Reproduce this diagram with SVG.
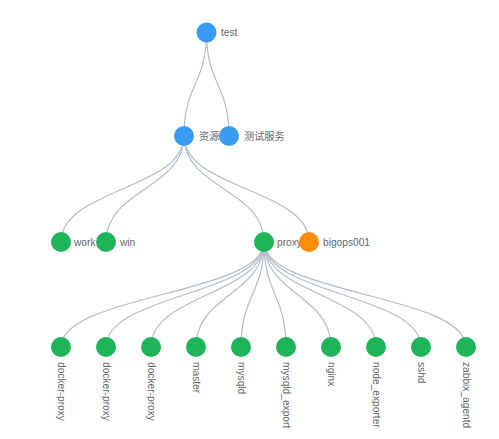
<svg xmlns="http://www.w3.org/2000/svg" width="499" height="439" viewBox="0 0 499 439">
<style>
.e{fill:none;stroke:#b3bcc8;stroke-width:1.2}
.b{fill:#3a9bf5}
.g{fill:#1db45a}
.o{fill:#ff8c0a}
text{font-family:"Liberation Sans","Noto Sans CJK SC",sans-serif;font-size:10.2px;fill:#666;dominant-baseline:middle}
</style>
<rect width="499" height="439" fill="#fff"/>
<g id="connectors">
<path class="e" d="M206.5 32.5 C206.5 84, 184 84, 184 136"/>
<path class="e" d="M206.5 32.5 C206.5 84, 229 84, 229 136"/>
<path class="e" d="M184 136 C184 189, 61 189, 61 242"/>
<path class="e" d="M184 136 C184 189, 106 189, 106 242"/>
<path class="e" d="M184 136 C184 189, 264 189, 264 242"/>
<path class="e" d="M184 136 C184 189, 309 189, 309 242"/>
<path class="e" d="M264 242 C264 294.5, 61 294.5, 61 347"/>
<path class="e" d="M264 242 C264 294.5, 106 294.5, 106 347"/>
<path class="e" d="M264 242 C264 294.5, 151 294.5, 151 347"/>
<path class="e" d="M264 242 C264 294.5, 196 294.5, 196 347"/>
<path class="e" d="M264 242 C264 294.5, 241 294.5, 241 347"/>
<path class="e" d="M264 242 C264 294.5, 286 294.5, 286 347"/>
<path class="e" d="M264 242 C264 294.5, 331 294.5, 331 347"/>
<path class="e" d="M264 242 C264 294.5, 376 294.5, 376 347"/>
<path class="e" d="M264 242 C264 294.5, 421 294.5, 421 347"/>
<path class="e" d="M264 242 C264 294.5, 466 294.5, 466 347"/>
</g>
<g id="n-test"><circle class="b" cx="206.5" cy="32.5" r="10"/><text x="221" y="33">test</text></g>
<g id="n-ziyuanchi"><circle class="b" cx="184" cy="136" r="10"/><text x="199" y="137">资源池</text></g>
<g id="n-ceshifuwu"><circle class="b" cx="229" cy="136" r="10"/><text x="244" y="137">测试服务</text></g>
<g id="n-work"><circle class="g" cx="61" cy="242" r="10"/><text x="74" y="243">work</text></g>
<g id="n-win"><circle class="g" cx="106" cy="242" r="10"/><text x="120" y="243">win</text></g>
<g id="n-proxy"><circle class="g" cx="264" cy="242" r="10"/><text x="277" y="243">proxy</text></g>
<g id="n-bigops001"><circle class="o" cx="309" cy="242" r="10"/><text x="323" y="243">bigops001</text></g>
<g id="n-leaf1"><circle class="g" cx="61" cy="347" r="10"/><text transform="translate(61 362) rotate(90)">docker-proxy</text></g>
<g id="n-leaf2"><circle class="g" cx="106" cy="347" r="10"/><text transform="translate(106 362) rotate(90)">docker-proxy</text></g>
<g id="n-leaf3"><circle class="g" cx="151" cy="347" r="10"/><text transform="translate(151 362) rotate(90)">docker-proxy</text></g>
<g id="n-leaf4"><circle class="g" cx="196" cy="347" r="10"/><text transform="translate(196 362) rotate(90)">master</text></g>
<g id="n-leaf5"><circle class="g" cx="241" cy="347" r="10"/><text transform="translate(241 362) rotate(90)">mysqld</text></g>
<g id="n-leaf6"><circle class="g" cx="286" cy="347" r="10"/><text transform="translate(286 362) rotate(90)">mysqld_export</text></g>
<g id="n-leaf7"><circle class="g" cx="331" cy="347" r="10"/><text transform="translate(331 362) rotate(90)">nginx</text></g>
<g id="n-leaf8"><circle class="g" cx="376" cy="347" r="10"/><text transform="translate(376 362) rotate(90)">node_exporter</text></g>
<g id="n-leaf9"><circle class="g" cx="421" cy="347" r="10"/><text transform="translate(421 362) rotate(90)">sshd</text></g>
<g id="n-leaf10"><circle class="g" cx="466" cy="347" r="10"/><text transform="translate(466 362) rotate(90)">zabbix_agentd</text></g>
</svg>
